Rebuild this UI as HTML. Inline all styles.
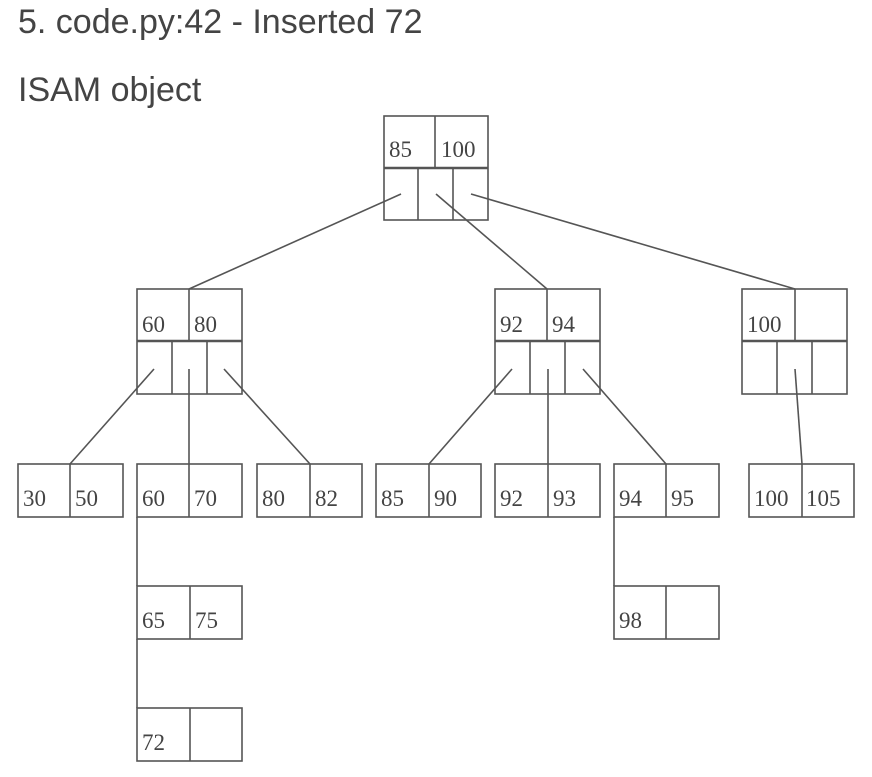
<!DOCTYPE html>
<html><head><meta charset="utf-8"><style>
html,body{margin:0;padding:0;background:#fff;width:872px;height:777px;overflow:hidden}
</style></head><body>
<svg width="872" height="777" viewBox="0 0 872 777" xmlns="http://www.w3.org/2000/svg">
<g font-family="Liberation Sans, sans-serif" font-size="34" fill="#444">
<text x="18" y="33">5. code.py:42 - Inserted 72</text>
<text x="18" y="101">ISAM object</text>
</g>
<g stroke="#555" stroke-width="1.6" fill="none">
<rect x="384" y="116" width="104" height="104"/>
<line x1="384" y1="168" x2="488" y2="168" stroke-width="2.5"/>
<line x1="435" y1="116" x2="435" y2="168"/>
<line x1="418" y1="168" x2="418" y2="220"/><line x1="453" y1="168" x2="453" y2="220"/>
<rect x="137" y="289" width="105" height="105"/>
<line x1="137" y1="341" x2="242" y2="341" stroke-width="2.5"/>
<line x1="189" y1="289" x2="189" y2="341"/>
<line x1="172" y1="341" x2="172" y2="394"/><line x1="207" y1="341" x2="207" y2="394"/>
<rect x="495" y="289" width="105" height="105"/>
<line x1="495" y1="341" x2="600" y2="341" stroke-width="2.5"/>
<line x1="547" y1="289" x2="547" y2="341"/>
<line x1="530" y1="341" x2="530" y2="394"/><line x1="565" y1="341" x2="565" y2="394"/>
<rect x="742" y="289" width="105" height="105"/>
<line x1="742" y1="341" x2="847" y2="341" stroke-width="2.5"/>
<line x1="795" y1="289" x2="795" y2="341"/>
<line x1="777" y1="341" x2="777" y2="394"/><line x1="812" y1="341" x2="812" y2="394"/>
<rect x="18" y="464" width="105" height="53"/><line x1="70" y1="464" x2="70" y2="517"/>
<rect x="137" y="464" width="105" height="53"/><line x1="189" y1="464" x2="189" y2="517"/>
<rect x="257" y="464" width="105" height="53"/><line x1="310" y1="464" x2="310" y2="517"/>
<rect x="376" y="464" width="105" height="53"/><line x1="429" y1="464" x2="429" y2="517"/>
<rect x="495" y="464" width="105" height="53"/><line x1="548" y1="464" x2="548" y2="517"/>
<rect x="614" y="464" width="105" height="53"/><line x1="666" y1="464" x2="666" y2="517"/>
<rect x="749" y="464" width="105" height="53"/><line x1="802" y1="464" x2="802" y2="517"/>
<rect x="137" y="586" width="105" height="53"/><line x1="190" y1="586" x2="190" y2="639"/>
<rect x="137" y="708" width="105" height="53"/><line x1="190" y1="708" x2="190" y2="761"/>
<rect x="614" y="586" width="105" height="53"/><line x1="666" y1="586" x2="666" y2="639"/>
<line x1="401" y1="194" x2="189" y2="289"/>
<line x1="436" y1="194" x2="547" y2="289"/>
<line x1="471" y1="194" x2="795" y2="289"/>
<line x1="154" y1="369" x2="70" y2="464"/>
<line x1="189" y1="369" x2="189" y2="464"/>
<line x1="224" y1="369" x2="310" y2="464"/>
<line x1="512" y1="369" x2="429" y2="464"/>
<line x1="548" y1="369" x2="548" y2="464"/>
<line x1="583" y1="369" x2="666" y2="464"/>
<line x1="795" y1="369" x2="802" y2="464"/>
<line x1="137" y1="517" x2="137" y2="586"/>
<line x1="137" y1="639" x2="137" y2="708"/>
<line x1="614" y1="517" x2="614" y2="586"/>
</g>
<g font-family="Liberation Serif, serif" font-size="23" fill="#444">
<text x="389" y="157">85</text><text x="441" y="157">100</text>
<text x="142" y="332">60</text><text x="194" y="332">80</text>
<text x="500" y="332">92</text><text x="552" y="332">94</text>
<text x="747" y="332">100</text>
<text x="23" y="506">30</text><text x="75" y="506">50</text>
<text x="142" y="506">60</text><text x="194" y="506">70</text>
<text x="262" y="506">80</text><text x="315" y="506">82</text>
<text x="381" y="506">85</text><text x="434" y="506">90</text>
<text x="500" y="506">92</text><text x="553" y="506">93</text>
<text x="619" y="506">94</text><text x="671" y="506">95</text>
<text x="754" y="506">100</text><text x="806" y="506">105</text>
<text x="142" y="628">65</text><text x="195" y="628">75</text>
<text x="619" y="628">98</text>
<text x="142" y="750">72</text>
</g>
</svg>
</body></html>
